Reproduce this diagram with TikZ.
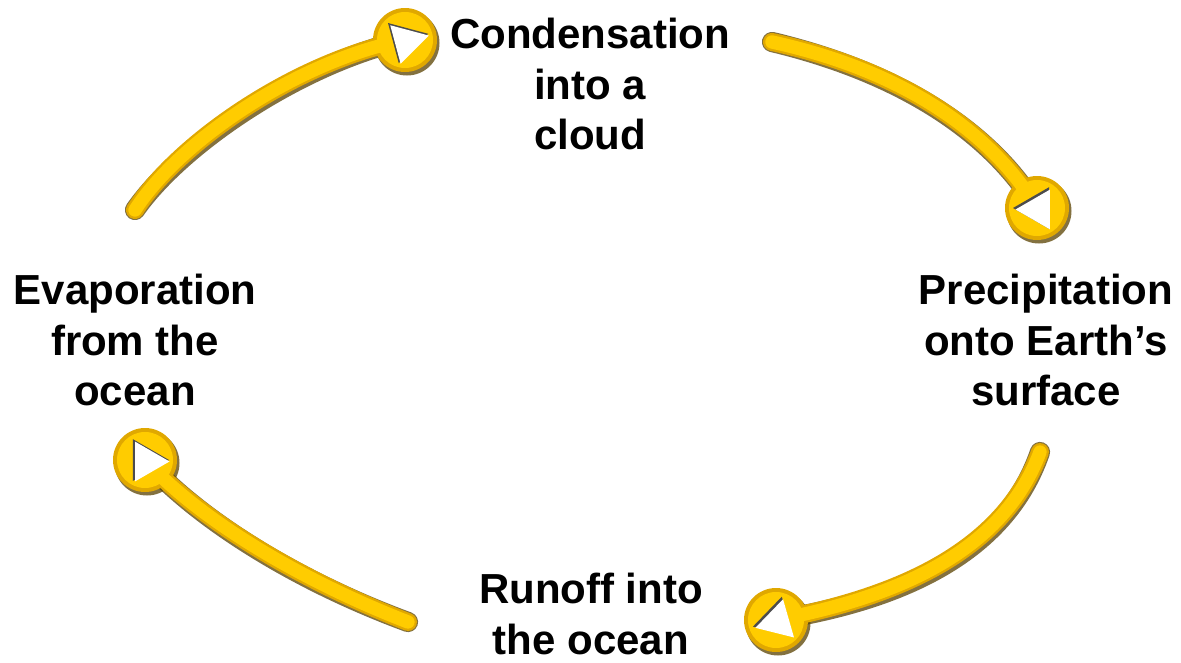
\documentclass[tikz,border=0pt]{standalone}
\usepackage{fontspec}
\setmainfont{Liberation Sans}
\usetikzlibrary{calc}
\definecolor{golddark}{HTML}{E0A800}
\definecolor{goldlight}{HTML}{FFCC00}
\definecolor{goldshadow}{HTML}{5A4200}
\tikzset{
  lbl/.style={font=\fontsize{23.9}{29}\selectfont\bfseries, align=center, text=black, inner sep=0pt},
  shadowline/.style={line width=11.5pt, goldshadow, opacity=0.75, line cap=round},
  darkline/.style={line width=10.2pt, golddark, line cap=round},
  lightline/.style={line width=7.6pt, goldlight, line cap=round},
}
\newcommand{\tri}[2]{%
  \fill[gray!60!black] (#1) ++(#2:24) -- ++(#2+150:41.6) -- ++(#2+270:41.6) -- cycle;
  \fill[white] ($(#1)+(1.5,1.5)$) ++(#2:23) -- ++(#2+150:39.8) -- ++(#2+270:39.8) -- cycle;
}
\begin{document}
\begin{tikzpicture}[x=0.02cm,y=-0.02cm]
\useasboundingbox (0,0) rectangle (1181,663);
% circle centres
\coordinate (c1) at (405,40);
\coordinate (c2) at (1037,208);
\coordinate (c3) at (776,620);
\coordinate (c4) at (145,460);
% free ends of arcs
\coordinate (s1) at (135,210);
\coordinate (s2) at (772,42);
\coordinate (s3) at (1040,452);
\coordinate (s4) at (408,622);
% shadows
\begin{scope}[shift={(2,3)}]
\draw[shadowline] (s1) .. controls (180,140) and (300,60) .. (c1);
\draw[shadowline] (s2) .. controls (900,70) and (990,130) .. (c2);
\draw[shadowline] (s3) .. controls (1000,560) and (880,600) .. (c3);
\draw[shadowline] (s4) .. controls (300,580) and (200,520) .. (c4);
\end{scope}
\foreach \c in {c1,c2,c3,c4} \fill[goldshadow,opacity=0.75] ($(\c)+(2,3)$) circle (32.5);
% dark layer
\draw[darkline] (s1) .. controls (180,140) and (300,60) .. (c1);
\draw[darkline] (s2) .. controls (900,70) and (990,130) .. (c2);
\draw[darkline] (s3) .. controls (1000,560) and (880,600) .. (c3);
\draw[darkline] (s4) .. controls (300,580) and (200,520) .. (c4);
\foreach \c in {c1,c2,c3,c4} \fill[golddark] (\c) circle (32);
% light layer
\draw[lightline] (s1) .. controls (180,140) and (300,60) .. (c1);
\draw[lightline] (s2) .. controls (900,70) and (990,130) .. (c2);
\draw[lightline] (s3) .. controls (1000,560) and (880,600) .. (c3);
\draw[lightline] (s4) .. controls (300,580) and (200,520) .. (c4);
\foreach \c in {c1,c2,c3,c4} \fill[goldlight] (\c) circle (28);
% triangles
\tri{c1}{-15}
\tri{c2}{180}
\tri{c3}{164}
\tri{c4}{0}
% labels
\node[lbl] (cond) at (590,84) {Condensation\\into a\\cloud};
\node[lbl] (prec) at (1046,340) {Precipitation\\onto Earth’s\\surface};
\node[lbl] (evap) at (135,340) {Evaporation\\from the\\ocean};
\node[lbl] (run) at (591,614) {Runoff into\\the ocean};
\end{tikzpicture}
\end{document}
